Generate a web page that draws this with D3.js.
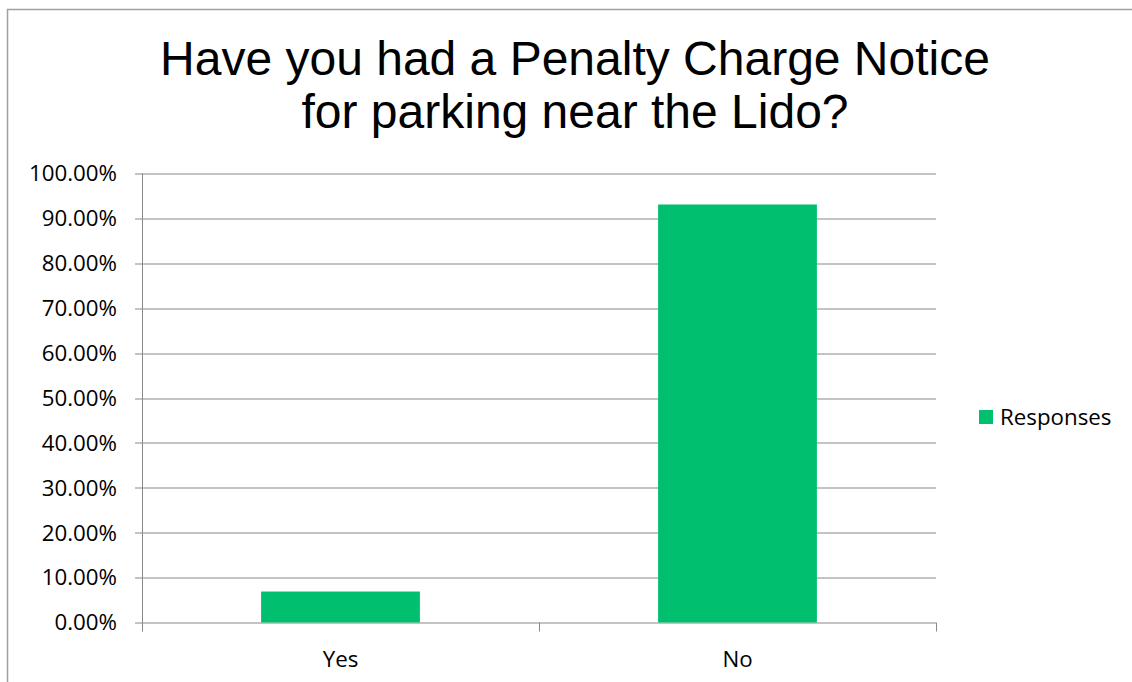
<!DOCTYPE html>
<html>
<head>
<meta charset="utf-8">
<script src="https://cdn.jsdelivr.net/npm/d3@7"></script>
<style>
  body { margin: 0; background: #fff; }
  text { font-family: "Open Sans", "Noto Sans", sans-serif; fill: #000; }
  .title { font-family: "Liberation Sans", Arial, sans-serif; font-size: 48px; }
</style>
</head>
<body>
<svg width="1132" height="682"></svg>
<script>
var categories = ["Yes", "No"];
var responses = [6.9, 93.1];
var yTicks = [0, 10, 20, 30, 40, 50, 60, 70, 80, 90, 100];
var seriesName = "Responses";
var titleLines = ["Have you had a Penalty Charge Notice", "for parking near the Lido?"];

var svg = d3.select("svg"),
    margin = {top: 173.5, left: 142, right: 196, bottom: 59.5},
    width = +svg.attr("width") - margin.left - margin.right,
    height = +svg.attr("height") - margin.top - margin.bottom;

var gray = "#888888";
var labelSize = "22.3px";

// outer chart border
svg.append("rect")
    .attr("x", 7.5).attr("y", 9.5)
    .attr("width", 1140).attr("height", 700)
    .attr("fill", "none").attr("stroke", "#a0a0a0").attr("stroke-width", 1.5);

// title
svg.selectAll(".title")
    .data(titleLines)
    .enter().append("text")
    .attr("class", "title")
    .attr("x", 575)
    .attr("y", function(d, i) { return 75 + i * 53; })
    .attr("text-anchor", "middle")
    .text(function(d) { return d; });

var x = d3.scaleBand().domain(categories).range([0, width]).paddingInner(0.6).paddingOuter(0.3);
var xTick = d3.scaleBand().domain(categories).range([0, width]);
var y = d3.scaleLinear().domain([0, 100]).range([height, 0]);

var g = svg.append("g").attr("transform", "translate(" + margin.left + "," + margin.top + ")");

// gridlines
g.selectAll(".grid")
    .data(yTicks)
    .enter().append("line")
    .attr("x1", -7).attr("x2", width)
    .attr("y1", function(d) { return Math.round(y(d)) + 0.5; })
    .attr("y2", function(d) { return Math.round(y(d)) + 0.5; })
    .attr("stroke", gray).attr("stroke-width", 1);

// y axis line
g.append("line")
    .attr("x1", 0.5).attr("x2", 0.5)
    .attr("y1", 0).attr("y2", height)
    .attr("stroke", gray);

// y labels
g.selectAll(".ylab")
    .data(yTicks)
    .enter().append("text")
    .attr("x", -25)
    .attr("y", function(d) { return y(d); })
    .attr("dy", "0.35em")
    .attr("text-anchor", "end")
    .style("font-size", labelSize)
    .text(function(d) { return d.toFixed(2) + "%"; });

// x ticks at category boundaries
var bounds = [0].concat(categories.map(function(c) { return xTick(c) + xTick.bandwidth(); }));
g.selectAll(".xtick")
    .data(bounds)
    .enter().append("line")
    .attr("x1", function(d) { return Math.round(d) + 0.5; })
    .attr("x2", function(d) { return Math.round(d) + 0.5; })
    .attr("y1", height).attr("y2", height + 9)
    .attr("stroke", gray);

// bars
g.selectAll(".bar")
    .data(responses)
    .enter().append("rect")
    .attr("x", function(d, i) { return x(categories[i]); })
    .attr("width", x.bandwidth())
    .attr("y", function(d) { return y(d); })
    .attr("height", function(d) { return height - y(d); })
    .attr("fill", "#00c06f");

// x labels
g.selectAll(".xlab")
    .data(categories)
    .enter().append("text")
    .attr("x", function(d) { return xTick(d) + xTick.bandwidth() / 2; })
    .attr("y", height + 44.5)
    .attr("text-anchor", "middle")
    .style("font-size", labelSize)
    .text(function(d) { return d; });

// legend
svg.append("rect")
    .attr("x", 979).attr("y", 410)
    .attr("width", 14).attr("height", 14)
    .attr("fill", "#00c06f");
svg.append("text")
    .attr("x", 1000).attr("y", 417)
    .attr("dy", "0.35em")
    .style("font-size", labelSize)
    .text(seriesName);
</script>
</body>
</html>
